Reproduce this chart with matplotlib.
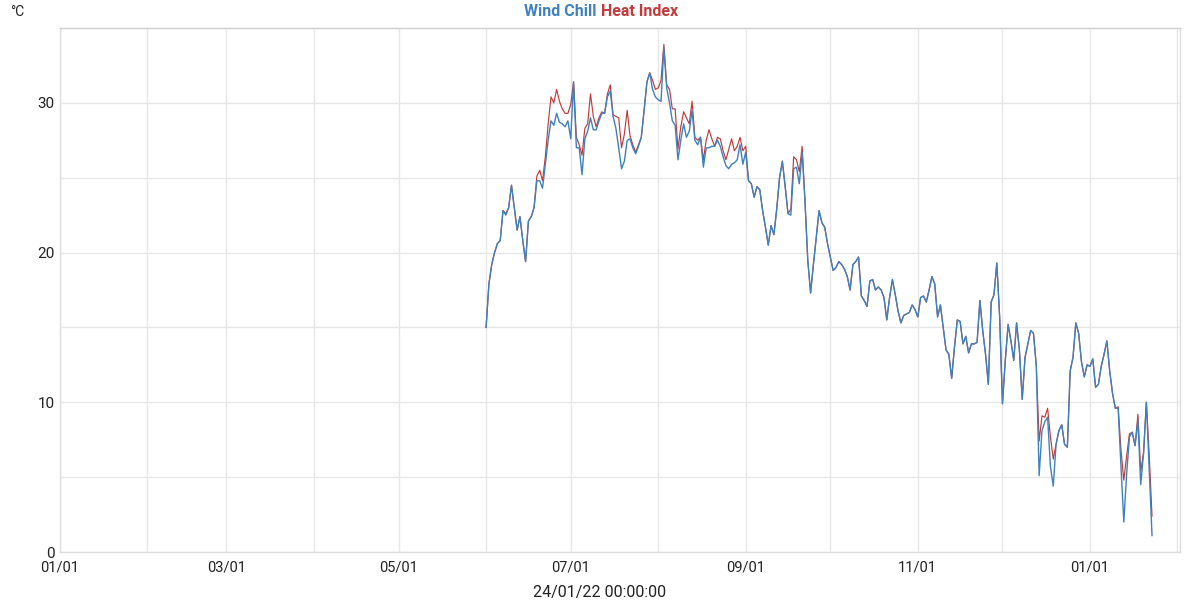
import matplotlib
matplotlib.use("Agg")
import matplotlib.pyplot as plt
import matplotlib.dates as mdates
import numpy as np
import datetime as dt

plt.rcParams['font.family'] = ['Roboto', 'DejaVu Sans']

start_date = dt.date(2023, 6, 1)

wind_chill = [
    15.0, 17.9, 19.2, 20.0, 20.6, 20.8, 22.8, 22.5, 23.0, 24.5,
    23.0, 21.5, 22.4, 20.8, 19.4, 22.1, 22.4, 23.0, 24.8, 24.8,
    24.3, 25.9, 27.5, 28.8, 28.5, 29.3, 28.7, 28.6, 28.4, 28.8,
    27.6, 31.4, 27.0, 27.0, 25.2, 27.6, 28.1, 29.0, 28.2, 28.2,
    28.8, 29.3, 29.3, 30.4, 30.8, 29.1, 28.3, 27.0, 25.6, 26.1,
    27.5, 27.6, 27.0, 26.6, 27.1, 27.7, 29.5, 31.4, 32.0, 30.9,
    30.4, 30.2, 30.1, 33.7, 31.0, 30.0, 28.8, 28.5, 26.2, 27.5,
    28.6, 27.7, 28.1, 29.5, 27.5, 27.2, 27.7, 25.7, 27.0, 27.0,
    27.1, 27.1, 27.5, 27.1, 26.4, 25.8, 25.6, 25.9, 26.0, 26.2,
    27.2, 25.9, 26.7, 24.8, 24.6, 23.7, 24.4, 24.2, 22.8, 21.7,
    20.5, 21.8, 21.2, 22.9, 25.0, 26.1, 24.4, 22.6, 22.5, 25.6,
    25.7, 24.6, 26.7, 23.5, 19.5, 17.3, 19.2, 21.0, 22.8, 22.0,
    21.7, 20.6, 19.7, 18.8, 19.0, 19.4, 19.2, 18.9, 18.4, 17.5,
    19.2, 19.4, 19.7, 17.1, 16.8, 16.4, 18.1, 18.2, 17.5, 17.7,
    17.5, 17.0, 15.5, 17.0, 18.2, 17.2, 16.1, 15.3, 15.8, 15.9,
    16.0, 16.5, 16.2, 15.7, 17.0, 17.1, 16.7, 17.5, 18.4, 17.9,
    15.7, 16.5, 15.0, 13.5, 13.2, 11.6, 13.7, 15.5, 15.4, 13.9,
    14.4, 13.3, 13.9, 13.9, 14.0, 16.8, 14.8, 13.2, 11.2, 16.7,
    17.2, 19.3, 15.7, 9.9, 12.8, 15.2, 14.1, 12.8, 15.3, 13.5,
    10.2, 13.0, 13.9, 14.8, 14.6, 12.4, 5.1, 8.1, 8.7, 9.0,
    5.7, 4.4, 7.2, 8.1, 8.5, 7.2, 7.0, 12.1, 13.0, 15.3,
    14.6, 12.7, 11.7, 12.5, 12.4, 12.9, 11.0, 11.2, 12.4, 13.2,
    14.1, 12.1, 10.6, 9.6, 9.6, 5.7, 2.0, 5.2, 7.7, 8.0,
    7.1, 8.8, 4.5, 6.6, 10.0, 5.5, 1.1,
]

heat_index = [
    15.0, 17.9, 19.2, 20.0, 20.6, 20.8, 22.8, 22.6, 23.0, 24.5,
    23.0, 21.5, 22.4, 20.8, 19.4, 22.1, 22.4, 23.0, 25.1, 25.5,
    24.8, 26.4, 28.6, 30.4, 30.0, 30.9, 30.1, 29.6, 29.3, 29.3,
    29.9, 31.4, 27.7, 27.2, 26.5, 28.3, 28.6, 30.6, 29.1, 28.4,
    29.0, 29.4, 29.3, 30.6, 31.2, 29.2, 29.1, 29.0, 27.0, 27.9,
    29.5, 27.8, 27.2, 26.7, 27.2, 27.7, 29.5, 31.4, 32.0, 31.5,
    30.9, 31.0, 31.5, 33.9, 31.2, 30.9, 29.6, 29.6, 26.9, 28.4,
    29.4, 29.0, 28.6, 30.1, 27.7, 27.5, 27.7, 26.2, 27.5, 28.2,
    27.6, 27.1, 27.7, 27.6, 26.8, 26.2, 26.9, 27.6, 26.8, 27.1,
    27.7, 26.8, 27.1, 24.8, 24.6, 23.7, 24.4, 24.2, 22.8, 21.7,
    20.5, 21.8, 21.2, 22.9, 25.0, 26.1, 24.4, 22.6, 22.9, 26.4,
    26.2, 25.4, 27.1, 23.5, 19.5, 17.3, 19.2, 21.0, 22.8, 22.0,
    21.7, 20.6, 19.7, 18.8, 19.0, 19.4, 19.2, 18.9, 18.4, 17.5,
    19.2, 19.4, 19.7, 17.1, 16.8, 16.4, 18.1, 18.2, 17.5, 17.7,
    17.5, 17.0, 15.5, 17.0, 18.2, 17.2, 16.1, 15.3, 15.8, 15.9,
    16.0, 16.5, 16.2, 15.7, 17.0, 17.1, 16.7, 17.5, 18.4, 17.9,
    15.7, 16.5, 15.0, 13.5, 13.2, 11.6, 13.7, 15.5, 15.4, 13.9,
    14.4, 13.3, 13.9, 13.9, 14.0, 16.8, 14.8, 13.2, 11.2, 16.7,
    17.2, 19.3, 15.7, 9.9, 12.8, 15.2, 14.1, 12.8, 15.3, 13.5,
    10.2, 13.0, 13.9, 14.8, 14.6, 12.4, 7.4, 9.1, 9.0, 9.6,
    7.7, 6.2, 7.2, 8.1, 8.5, 7.2, 7.0, 12.1, 13.0, 15.3,
    14.6, 12.7, 11.7, 12.5, 12.4, 12.9, 11.0, 11.2, 12.4, 13.2,
    14.1, 12.1, 10.6, 9.6, 9.7, 6.8, 4.8, 6.4, 7.9, 8.0,
    7.1, 9.2, 5.4, 6.6, 10.0, 6.5, 2.4,
]

dates = [start_date + dt.timedelta(days=k) for k in range(len(wind_chill))]

x_start = dt.datetime(2023, 1, 1)
x_end = dt.datetime(2024, 2, 1, 22)
y_ticks = [0, 10, 20, 30]
title_parts = ["Wind Chill", "Heat Index"]
unit_label = "°C"
x_label = "24/01/22 00:00:00"

blue = "#3f80bf"
red = "#c03b3b"
grid_c = "#e6e6e6"

fig = plt.figure(figsize=(12, 6), dpi=100)
ax = fig.add_axes([60/1200, 48/600, 1120/1200, 524/600])

ax.plot(dates, heat_index, color=red, lw=0.85, zorder=3)
ax.plot(dates, wind_chill, color=blue, lw=1.0, zorder=4)

ax.set_xlim(x_start, x_end)
ax.set_ylim(0, 35)

ax.xaxis.set_major_locator(mdates.MonthLocator(bymonth=[1, 3, 5, 7, 9, 11]))
ax.xaxis.set_minor_locator(mdates.MonthLocator())
ax.xaxis.set_major_formatter(mdates.DateFormatter("%m/%d"))
ax.set_yticks(y_ticks)
ax.set_yticks(np.arange(5, 35, 10), minor=True)

ax.grid(True, which='both', color=grid_c, lw=1.0, zorder=0)
ax.tick_params(which='both', length=0)
ax.tick_params(axis='x', labelsize=10.5, pad=6, colors='#222222')
ax.tick_params(axis='y', labelsize=11, pad=4, colors='#222222')
for sp in ax.spines.values():
    sp.set_color("#dddddd")
    sp.set_linewidth(1.0)
ax.spines['top'].set_color("#cfcfcf")

fig.text(597/1200, 1 - 12/600, title_parts[0], color=blue, fontsize=11.5,
         fontweight='bold', ha='right', va='center')
fig.text(601/1200, 1 - 12/600, title_parts[1], color=red, fontsize=11.5,
         fontweight='bold', ha='left', va='center')
fig.text(10/1200, 1 - 12/600, unit_label, color='#222222', fontsize=10,
         ha='left', va='center')
fig.text(600/1200, 1 - 592/600, x_label, color='#222222', fontsize=11.5,
         ha='center', va='center')

fig.savefig("out.png", dpi=100)
